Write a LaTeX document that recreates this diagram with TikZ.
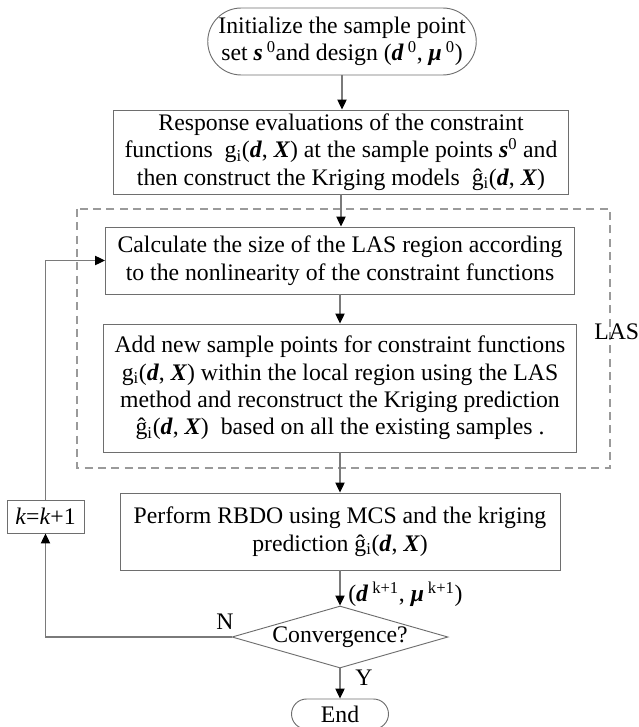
\documentclass[tikz,border=0pt]{standalone}
\usepackage{fontspec}
\setmainfont{Liberation Serif}
\usetikzlibrary{shapes.geometric,shapes.misc,arrows.meta}
\newcommand{\bi}[1]{\textbf{\textit{#1}}}
\newcommand{\gfun}{g\textsubscript{i}}
\newcommand{\ghat}{ĝ\textsubscript{i}}
\newcommand{\dX}{(\bi{d}, \bi{X})}
\definecolor{linegray}{HTML}{6E6E6E}
\definecolor{conngray}{HTML}{7A7A7A}
\definecolor{dashgray}{HTML}{9A9A9A}
\begin{document}
\begin{tikzpicture}[x=0.75pt,y=-0.75pt,
  font=\fontsize{17.8}{20.6}\selectfont,
  box/.style={draw=linegray, line width=0.7pt, align=center, inner sep=0pt},
  term/.style={draw=linegray, line width=0.7pt, align=center, inner sep=0pt, rounded rectangle},
  decision/.style={draw=linegray, line width=0.7pt, diamond, inner sep=0pt, aspect=3.48},
  arr/.style={draw=conngray, line width=0.8pt, -{Triangle[length=7.5pt,width=7pt,color=black]}},
  conn/.style={draw=conngray, line width=0.8pt},
  lasbox/.style={draw=dashgray, line width=0.8pt, dash pattern=on 6pt off 4pt},
  lbl/.style={inner sep=0pt}
]
\useasboundingbox (0,0) rectangle (638,727);

\node[term, minimum width=195pt, minimum height=50.25pt] (start) at (342,41.5)
  {Initialize the sample point\\ set \bi{s}\,\textsuperscript{0}and design (\bi{d}\,\textsuperscript{0}, \bi{μ}\,\textsuperscript{0})};

\node[box, minimum width=341.25pt, minimum height=63pt] (eval) at (341,152)
  {Response evaluations of the constraint\\
   functions \ \gfun\dX{} at the sample points \bi{s}\textsuperscript{0} and\\
   then construct the Kriging models \ \ghat\dX};

\node[box, minimum width=351.75pt, minimum height=50.25pt] (size) at (340,260.5)
  {Calculate the size of the LAS region according\\ to the nonlinearity of the constraint functions};

\node[box, minimum width=354.75pt, minimum height=96pt] (add) at (340,388)
  {Add new sample points for constraint functions\\
   \gfun\dX{} within the local region using the LAS\\
   method and reconstruct the Kriging prediction\\
   \ghat\dX{} \ based on all the existing samples .};

\draw[lasbox] (77,209) rectangle (610,468);
\node[lbl, anchor=west] (las) at (594,332) {LAS};

\node[box, minimum width=330pt, minimum height=57.75pt] (rbdo) at (340,531.5)
  {Perform RBDO using MCS and the kriging\\ prediction \ghat\dX};

\node[box, minimum width=57.75pt, minimum height=24.75pt] (kinc) at (45.5,516.5)
  {\textit{k}=\textit{k}+1};

\node[decision, minimum width=162pt, minimum height=46.5pt] (conv) at (340,637)
  {Convergence?};

\node[term, minimum width=72.75pt, minimum height=22.5pt] (end) at (340,714) {End};

\node[lbl, anchor=west] (klbl) at (348,594)
  {(\bi{d}\,\textsuperscript{k+1}, \bi{μ}\,\textsuperscript{k+1})};
\node[lbl] (nlbl) at (225,622) {N};
\node[lbl] (ylbl) at (364,678) {Y};

\coordinate (fbA) at (45.5,637);
\coordinate (fbB) at (45.5,260.5);

\draw[arr] (start.south) -- (start.south |- eval.north);
\draw[arr] (eval.south) -- (eval.south |- size.north);
\draw[arr] (size.south) -- (size.south |- add.north);
\draw[arr] (add.south) -- (add.south |- rbdo.north);
\draw[arr] (rbdo.south) -- (conv.north);
\draw[arr] (conv.south) -- (end.north);
\draw[arr] (conv.west) -- (fbA) -- (kinc.south);
\draw[arr] (kinc.north) -- (fbB) -- (size.west);
\end{tikzpicture}
\end{document}
